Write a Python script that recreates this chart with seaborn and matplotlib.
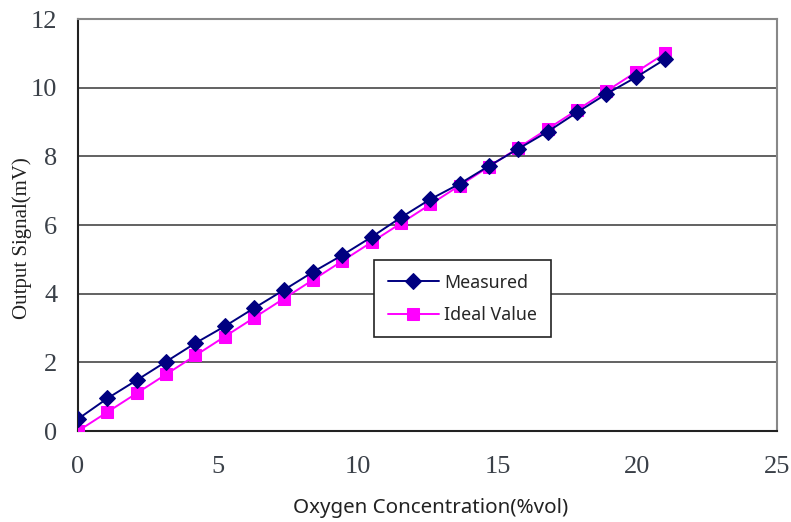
import matplotlib
matplotlib.use("Agg")
import matplotlib.pyplot as plt
import seaborn as sns
import pandas as pd

# Oxygen concentration (%vol) at each calibration step
concentration = [0.0, 1.05, 2.1, 3.15, 4.2, 5.25, 6.3, 7.35, 8.4, 9.45, 10.5,
                 11.55, 12.6, 13.65, 14.7, 15.75, 16.8, 17.85, 18.9, 19.95, 21.0]
# Sensor output (mV)
measured = [0.35, 0.95, 1.48, 2.02, 2.56, 3.05, 3.58, 4.10, 4.63, 5.12, 5.65,
            6.22, 6.75, 7.20, 7.72, 8.22, 8.72, 9.28, 9.82, 10.30, 10.83]
ideal = [0.0, 0.55, 1.10, 1.65, 2.20, 2.75, 3.30, 3.85, 4.40, 4.95, 5.50,
         6.05, 6.60, 7.15, 7.70, 8.25, 8.80, 9.35, 9.90, 10.45, 11.00]

x_ticks = [0, 5, 10, 15, 20, 25]
y_ticks = [0, 2, 4, 6, 8, 10, 12]

df = pd.DataFrame({"conc": concentration, "Measured": measured, "Ideal Value": ideal})

sns.set_style("white")
fig = plt.figure(figsize=(7.91, 5.22), dpi=100)
ax = fig.add_axes([0.0986, 0.1743, 0.8837, 0.7893])

sns.lineplot(data=df, x="conc", y="Measured", ax=ax, color="#000080", marker="D",
             markersize=8, markeredgecolor="#000080", linewidth=1.4, label="Measured",
             zorder=4)
sns.lineplot(data=df, x="conc", y="Ideal Value", ax=ax, color="#FF00FF", marker="s",
             markersize=9, markeredgecolor="#FF00FF", linewidth=1.4, label="Ideal Value",
             zorder=3)

serif = ["Liberation Serif", "DejaVu Serif"]
sans = ["Noto Sans", "DejaVu Sans"]

ax.set_xlim(0, 25)
ax.set_ylim(0, 12)
ax.set_xticks(x_ticks)
ax.set_xticklabels([str(t) for t in x_ticks], fontsize=19, family=serif, color="#3a4048")
ax.set_yticks(y_ticks)
ax.set_yticklabels([str(t) for t in y_ticks], fontsize=19, family=serif, color="#3a4048")
ax.yaxis.grid(True, color="#555555", linewidth=1.3)
ax.set_axisbelow(True)

for side in ("top", "right"):
    ax.spines[side].set_color("#888888")
    ax.spines[side].set_linewidth(1.5)
for side in ("left", "bottom"):
    ax.spines[side].set_color("#222222")
    ax.spines[side].set_linewidth(1.5)

ax.tick_params(axis="x", direction="in", length=6, width=1.2, color="#333333", pad=18)
ax.tick_params(axis="y", direction="in", length=0, pad=15)

ax.set_xlabel("Oxygen Concentration(%vol)", fontsize=14.8, family=sans, color="#222222")
ax.set_ylabel("Output Signal(mV)", fontsize=15, family=serif, color="#222222")
ax.xaxis.label.set_va("center")
ax.yaxis.label.set_va("center")
ax.xaxis.set_label_coords(0.505, -0.187)
ax.yaxis.set_label_coords(-0.080, 0.467)

leg = ax.legend(loc="center", bbox_to_anchor=(0.55, 0.321), frameon=True,
                fancybox=False, prop={"family": sans, "size": 12.8},
                handlelength=2.9, borderpad=0.75, labelspacing=0.8, handletextpad=0.3)
leg.get_frame().set_edgecolor("#222222")
leg.get_frame().set_linewidth(1.2)
leg.get_frame().set_alpha(1)
leg.set_zorder(10)

fig.savefig("out.png", dpi=100)
